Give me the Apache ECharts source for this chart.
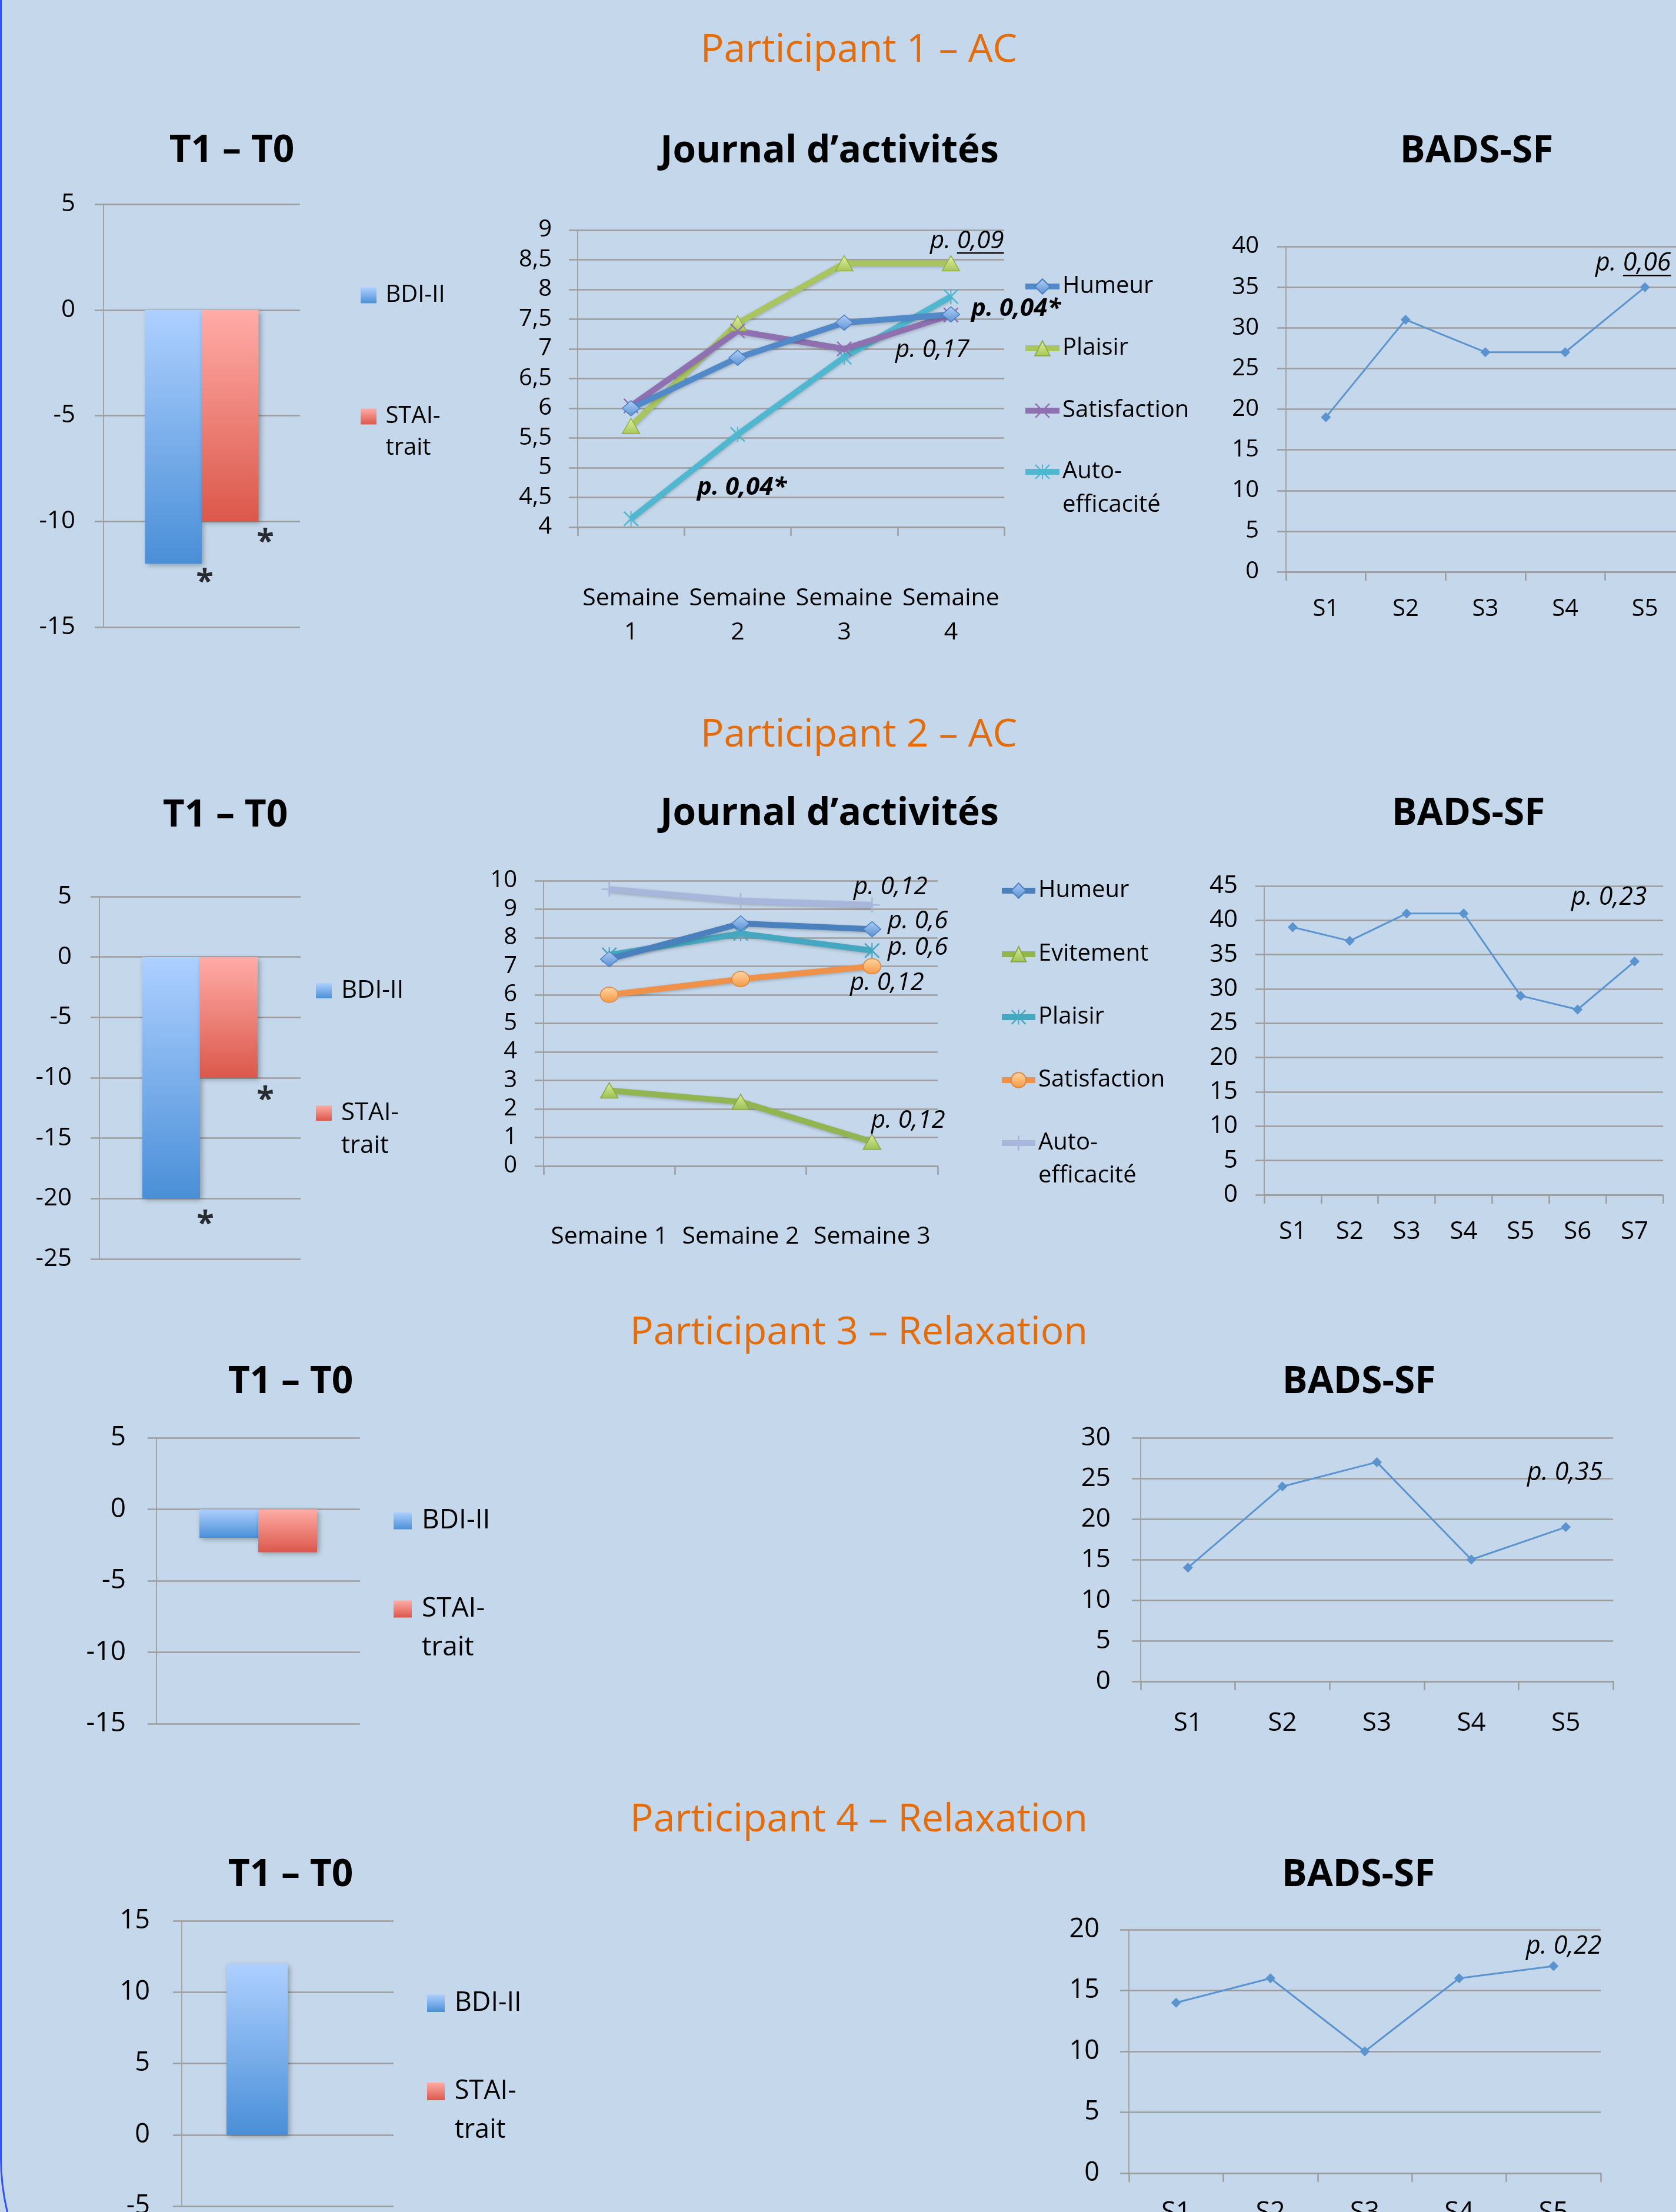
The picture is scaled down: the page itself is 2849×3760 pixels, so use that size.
<!DOCTYPE html>
<html>
<head>
<meta charset="utf-8">
<title>Participants – BDI-II, STAI-trait, journal d’activités, BADS-SF</title>
<script src="https://cdn.jsdelivr.net/npm/echarts@6/dist/echarts.min.js"></script>
<style>
  html, body { margin: 0; padding: 0; background: #c5d8eb; }
  #chart { width: 2849px; height: 3760px; }
</style>
</head>
<body>
<div id="chart"></div>
<script>
// ---------------- data ----------------
const participantTitles = ['Participant 1 – AC', 'Participant 2 – AC', 'Participant 3 – Relaxation', 'Participant 4 – Relaxation'];
const titleT1T0 = 'T1 – T0';
const titleJournal = 'Journal d’activités';
const titleBads = 'BADS-SF';

// T1 − T0 differences, one entry per participant
const scaleNames = ['BDI-II', 'STAI-trait'];
const bdiChange = [-12, -20, -2, 12];
const staiChange = [-10, -10, -3, 0];
const bdiSignificant = [true, true, false, false];
const staiSignificant = [true, true, false, false];
const t1t0Ranges = [[-15, 5], [-25, 5], [-15, 5], [-5, 15]];

// Journal d'activités, participant 1
const weeksP1 = ['Semaine 1', 'Semaine 2', 'Semaine 3', 'Semaine 4'];
const humeurP1 = [6.0, 6.85, 7.44, 7.58];
const plaisirP1 = [5.7, 7.43, 8.44, 8.44];
const satisfactionP1 = [6.04, 7.3, 7.0, 7.57];
const autoEfficaciteP1 = [4.14, 5.56, 6.86, 7.88];
const pJournalP1 = ['p. 0,09', 'p. 0,04*', 'p. 0,17', 'p. 0,04*'];

// Journal d'activités, participant 2
const weeksP2 = ['Semaine 1', 'Semaine 2', 'Semaine 3'];
const humeurP2 = [7.25, 8.5, 8.3];
const evitementP2 = [2.65, 2.25, 0.85];
const plaisirP2 = [7.4, 8.15, 7.55];
const satisfactionP2 = [6.0, 6.55, 7.0];
const autoEfficaciteP2 = [9.7, 9.3, 9.15];
const pJournalP2 = ['p. 0,12', 'p. 0,6', 'p. 0,6', 'p. 0,12', 'p. 0,12'];

// BADS-SF per session
const sessionsP1 = ['S1', 'S2', 'S3', 'S4', 'S5'];
const sessionsP2 = ['S1', 'S2', 'S3', 'S4', 'S5', 'S6', 'S7'];
const sessionsP3 = ['S1', 'S2', 'S3', 'S4', 'S5'];
const sessionsP4 = ['S1', 'S2', 'S3', 'S4', 'S5'];
const badsP1 = [19, 31, 27, 27, 35];
const badsP2 = [39, 37, 41, 41, 29, 27, 34];
const badsP3 = [14, 24, 27, 15, 19];
const badsP4 = [14, 16, 10, 16, 17];
const badsRanges = [[0, 40], [0, 45], [0, 30], [0, 20]];
const pBads = ['p. 0,06', 'p. 0,23', 'p. 0,35', 'p. 0,22'];

// ---------------- layout ----------------
const FONT = '"Open Sans", "DejaVu Sans", sans-serif';
const GRID_GRAY = '#9c9c9c';
const AXIS_GRAY = '#a3a3a3';
const ORANGE = '#e46c0a';

const participantTitleY = [86, 1250, 2266, 3094];
const panelTitlePos = [
  [{t: titleT1T0, x: 394, y: 257}, {t: titleJournal, x: 1410, y: 258}, {t: titleBads, x: 2510, y: 258}],
  [{t: titleT1T0, x: 383, y: 1387}, {t: titleJournal, x: 1410, y: 1384}, {t: titleBads, x: 2496, y: 1384}],
  [{t: titleT1T0, x: 494, y: 2350}, {t: titleBads, x: 2310, y: 2350}],
  [{t: titleT1T0, x: 494, y: 3188}, {t: titleBads, x: 2309, y: 3188}]
];

const T1T0_LAYOUT = [
  {grid: {left: 176, top: 347, width: 334, height: 719}, bar: 96.5, yFs: 42, yMargin: 48,
   leg: {left: 613, bdi: 502, stai: 708, fs: 40, lh: 54, w: 27, h: 27}, star: {bdi: [5, 32], stai: [108, 36]}},
  {grid: {left: 169, top: 1524, width: 342, height: 616}, bar: 98, yFs: 42, yMargin: 47,
   leg: {left: 537, bdi: 1684, stai: 1892, fs: 42, lh: 56, w: 27, h: 26}, star: {bdi: [9, 44], stai: [111, 39]}},
  {grid: {left: 266, top: 2444, width: 346, height: 486}, bar: 100, yFs: 46, yMargin: 52,
   leg: {left: 669, bdi: 2585, stai: 2735, fs: 46, lh: 66, w: 31, h: 29}, star: {bdi: [0, 0], stai: [0, 0]}},
  {grid: {left: 309, top: 3265, width: 360, height: 485}, bar: 104, yFs: 45, yMargin: 54,
   leg: {left: 726, bdi: 3405, stai: 3555, fs: 45, lh: 66, w: 30, h: 30}, star: {bdi: [0, 0], stai: [0, 0]}}
];

const JOURNAL_LAYOUT = [
  {grid: {left: 982, top: 391, width: 725, height: 505}, yFs: 40, yMargin: 44, xFs: 41, xLh: 58, xMargin: 92,
   leg: {left: 1738, rows: [487, 592, 698, 802], fs: 40, lh: 48, lh2: 57, w: 58, h: 32},
   p: [{x: 1581, y: 410, u: true}, {x: 1651, y: 525, b: true}, {x: 1522, y: 595}, {x: 1185, y: 829, b: true}]},
  {grid: {left: 924, top: 1497, width: 670, height: 485}, yFs: 40, yMargin: 45, xFs: 41, xLh: 48, xMargin: 96,
   leg: {left: 1698, rows: [1514, 1622, 1729, 1836, 1943], fs: 40, lh: 48, lh2: 56, w: 57, h: 32},
   p: [{x: 1451, y: 1508}, {x: 1509, y: 1566}, {x: 1509, y: 1611}, {x: 1445, y: 1671}, {x: 1481, y: 1905}]}
];

const BADS_LAYOUT = [
  {grid: {left: 2186, top: 419, width: 678, height: 553}, fs: 40, yMargin: 46, xMargin: 40, p: {x: 2712, y: 448, u: true}},
  {grid: {left: 2149, top: 1506, width: 678, height: 525}, fs: 42, yMargin: 45, xMargin: 39, p: {x: 2671, y: 1526}},
  {grid: {left: 1939, top: 2444, width: 803, height: 414}, fs: 44, yMargin: 51, xMargin: 47, p: {x: 2596, y: 2504}},
  {grid: {left: 1919, top: 3280, width: 802, height: 414}, fs: 45, yMargin: 50, xMargin: 44, p: {x: 2594, y: 3309}}
];

const JOURNAL_LINE_WIDTH = 10;

// ---------------- helpers ----------------
const grids = [], xAxes = [], yAxes = [], series = [], legends = [], graphics = [];

function vGrad(top, bottom) {
  return new echarts.graphic.LinearGradient(0, 0, 0, 1, [{offset: 0, color: top}, {offset: 1, color: bottom}]);
}

function addGrid(box, cats, range, step, ax) {
  const i = grids.length;
  grids.push({left: box.left, top: box.top, width: box.width, height: box.height,
              containLabel: false, outerBoundsMode: 'none'});
  const xLabel = {show: true, interval: 0, margin: ax.xMargin || 0, color: '#000',
                  fontFamily: FONT, fontSize: ax.xFs || 40, lineHeight: ax.xLh || 48};
  if (ax.xFmt) xLabel.formatter = ax.xFmt;
  xAxes.push({
    gridIndex: i, type: 'category', data: cats, boundaryGap: true, show: !ax.hideX,
    axisLine: {show: true, onZero: false, lineStyle: {color: GRID_GRAY, width: 2.5}},
    axisTick: {show: true, length: 15, interval: 0, alignWithLabel: false, lineStyle: {color: GRID_GRAY, width: 2.5}},
    axisLabel: xLabel,
    splitLine: {show: false}
  });
  yAxes.push({
    gridIndex: i, type: 'value', min: range[0], max: range[1], interval: step,
    axisLine: {show: true, onZero: false, lineStyle: {color: AXIS_GRAY, width: 2}},
    axisTick: {show: true, length: 15, lineStyle: {color: GRID_GRAY, width: 2.5}},
    axisLabel: {show: true, margin: ax.yMargin, color: '#000', fontFamily: FONT, fontSize: ax.yFs,
                padding: [8, 0, 0, 0],
                formatter: v => String(v).replace('.', ',')},
    splitLine: {show: true, lineStyle: {color: GRID_GRAY, width: 2.5}}
  });
  return i;
}

// one legend component per entry, so a two-line label keeps its first line beside the icon
function legendItem(name, left, cy, fs, lh, w, h, label, icon) {
  const two = label.indexOf('\n') >= 0;
  const leg = {
    show: true, data: [name], orient: 'vertical', left: left,
    top: cy - (two ? 1.5 : 0.5) * lh, padding: 0, itemGap: 0,
    itemWidth: w, itemHeight: h, selectedMode: false,
    formatter: () => (two ? ' \n' + label : label),
    textStyle: {fontFamily: FONT, fontSize: fs, lineHeight: lh, color: '#000'},
    itemStyle: {shadowBlur: 0, shadowColor: 'rgba(0,0,0,0)'}
  };
  if (icon) leg.icon = icon;
  else leg.lineStyle = {width: JOURNAL_LINE_WIDTH, shadowBlur: 0, shadowColor: 'rgba(0,0,0,0)'};
  return leg;
}

const SYM_X = 'path://M0.7,0L5,4.3L9.3,0L10,0.7L5.7,5L10,9.3L9.3,10L5,5.7L0.7,10L0,9.3L4.3,5L0,0.7Z';
const SYM_STAR = SYM_X + 'M4.6,0L5.4,0L5.4,10L4.6,10Z';
const SYM_PLUS = 'path://M4.5,0L5.5,0L5.5,4.5L10,4.5L10,5.5L5.5,5.5L5.5,10L4.5,10L4.5,5.5L0,5.5L0,4.5L4.5,4.5Z';

function lineSeries(name, gi, data, st) {
  return {
    type: 'line', name: name, xAxisIndex: gi, yAxisIndex: gi, data: data,
    symbol: st.symbol, symbolSize: st.size || [30, 26], showSymbol: true,
    lineStyle: {color: st.line, width: JOURNAL_LINE_WIDTH, shadowBlur: 5, shadowColor: 'rgba(0,0,0,0.22)', shadowOffsetY: 2},
    itemStyle: {color: st.fill || st.line, borderColor: st.border || st.line, borderWidth: st.bw || 0},
    emphasis: {disabled: true}, silent: true, z: st.z || 2
  };
}

const measureCtx = document.createElement('canvas').getContext('2d');
function textWidth(str, fs, bold) {
  measureCtx.font = 'italic ' + (bold ? 'bold ' : '') + fs + 'px ' + FONT;
  return measureCtx.measureText(str).width;
}

// p-value annotation, with the value optionally underlined
function pText(str, pos, fs) {
  graphics.push({
    type: 'text', x: pos.x, y: pos.y, silent: true, z: 100,
    style: {text: str, fill: '#000', fontFamily: FONT, fontSize: fs, fontStyle: 'italic',
            fontWeight: pos.b ? 'bold' : 'normal', align: 'left', verticalAlign: 'middle'}
  });
  if (pos.u) {
    const x1 = pos.x + textWidth('p. ', fs, pos.b);
    const x2 = pos.x + textWidth(str, fs, pos.b);
    const uy = pos.y + 0.357 * fs + 5;
    graphics.push({type: 'line', silent: true, z: 100,
                   shape: {x1: x1, y1: uy, x2: x2, y2: uy}, style: {stroke: '#000', lineWidth: 2.5}});
  }
}

// ---------------- T1 – T0 bar panels ----------------
const blueBar = () => vGrad('#aed0ff', '#4a8fd7');
const redBar = () => vGrad('#ffaca7', '#db584b');
const barShadow = {shadowBlur: 9, shadowColor: 'rgba(0,0,0,0.32)', shadowOffsetX: 3, shadowOffsetY: 3};

T1T0_LAYOUT.forEach((L, i) => {
  const gi = addGrid(L.grid, [titleT1T0], t1t0Ranges[i], 5, {hideX: true, yFs: L.yFs, yMargin: L.yMargin});
  const bdiName = scaleNames[0] + '#' + (i + 1);
  const staiName = scaleNames[1] + '#' + (i + 1);
  series.push({type: 'bar', name: bdiName, xAxisIndex: gi, yAxisIndex: gi, data: [bdiChange[i]],
               barWidth: L.bar, barGap: '0%', silent: true, emphasis: {disabled: true},
               itemStyle: Object.assign({color: blueBar()}, barShadow)});
  series.push({type: 'bar', name: staiName, xAxisIndex: gi, yAxisIndex: gi, data: [staiChange[i]],
               barWidth: L.bar, barGap: '0%', silent: true, emphasis: {disabled: true},
               itemStyle: Object.assign({color: redBar()}, barShadow)});
  const stars = [[bdiSignificant[i], bdiChange[i], L.star.bdi], [staiSignificant[i], staiChange[i], L.star.stai]];
  stars.forEach(s => {
    if (!s[0]) return;
    series.push({type: 'scatter', xAxisIndex: gi, yAxisIndex: gi, data: [[0, s[1]]],
                 symbol: 'circle', symbolSize: 1, itemStyle: {color: 'rgba(0,0,0,0)'},
                 silent: true, z: 5,
                 label: {show: true, position: 'inside', formatter: '*', offset: s[2],
                         fontFamily: FONT, fontSize: 54, fontWeight: 'bold', color: '#000'}});
  });
  const g = L.leg;
  legends.push(legendItem(bdiName, g.left, g.bdi, g.fs, g.lh, g.w, g.h, ' BDI-II', 'rect'));
  legends.push(legendItem(staiName, g.left, g.stai, g.fs, g.lh, g.w, g.h, ' STAI-\n trait', 'rect'));
});

// ---------------- journal d'activités ----------------
(function () {
  const L = JOURNAL_LAYOUT[0];
  const gi = addGrid(L.grid, weeksP1, [4, 9], 0.5,
    {xFs: L.xFs, xLh: L.xLh, xMargin: L.xMargin, xFmt: v => v.replace(' ', '\n'), yFs: L.yFs, yMargin: L.yMargin});
  const defs = [
    ['Humeur', humeurP1, {symbol: 'diamond', line: '#5189c9', fill: vGrad('#b3d1f7', '#5b91d4'), border: '#4a7fc0', bw: 1.5, z: 4}],
    ['Plaisir', plaisirP1, {symbol: 'triangle', line: '#a8c560', fill: vGrad('#e3f2a6', '#a6c656'), border: '#8fae48', bw: 1.5, z: 3}],
    ['Satisfaction', satisfactionP1, {symbol: SYM_X, line: '#8f70b0', size: 26, z: 3}],
    ['Auto-efficacité', autoEfficaciteP1, {symbol: SYM_STAR, line: '#4fb7cf', size: 26, z: 2}]
  ];
  defs.forEach((d, k) => {
    const name = d[0] + '#1';
    series.push(lineSeries(name, gi, d[1], d[2]));
    const label = d[0] === 'Auto-efficacité' ? 'Auto-\nefficacité' : d[0];
    const lh = label.indexOf('\n') >= 0 ? L.leg.lh2 : L.leg.lh;
    legends.push(legendItem(name, L.leg.left, L.leg.rows[k], L.leg.fs, lh, L.leg.w, L.leg.h, label));
  });
  pJournalP1.forEach((t, k) => pText(t, L.p[k], 42));
})();

(function () {
  const L = JOURNAL_LAYOUT[1];
  const gi = addGrid(L.grid, weeksP2, [0, 10], 1,
    {xFs: L.xFs, xLh: L.xLh, xMargin: L.xMargin, yFs: L.yFs, yMargin: L.yMargin});
  const defs = [
    ['Humeur', humeurP2, {symbol: 'diamond', line: '#4b80bf', fill: vGrad('#acccf5', '#5a90d3'), border: '#4a7fc0', bw: 1.5, z: 4}],
    ['Evitement', evitementP2, {symbol: 'triangle', line: '#92b451', fill: vGrad('#dcee9e', '#9cc050'), border: '#86a646', bw: 1.5, z: 3}],
    ['Plaisir', plaisirP2, {symbol: SYM_STAR, line: '#46a7c0', size: 26, z: 3}],
    ['Satisfaction', satisfactionP2, {symbol: 'circle', line: '#f0914a', fill: vGrad('#ffd7a6', '#f59843'), border: '#e0853a', bw: 1.5, z: 3}],
    ['Auto-efficacité', autoEfficaciteP2, {symbol: SYM_PLUS, line: '#a7b6da', size: 26, z: 2}]
  ];
  defs.forEach((d, k) => {
    const name = d[0] + '#2';
    series.push(lineSeries(name, gi, d[1], d[2]));
    const label = d[0] === 'Auto-efficacité' ? 'Auto-\nefficacité' : d[0];
    const lh = label.indexOf('\n') >= 0 ? L.leg.lh2 : L.leg.lh;
    legends.push(legendItem(name, L.leg.left, L.leg.rows[k], L.leg.fs, lh, L.leg.w, L.leg.h, label));
  });
  pJournalP2.forEach((t, k) => pText(t, L.p[k], 42));
})();

// ---------------- BADS-SF ----------------
const badsSeries = [badsP1, badsP2, badsP3, badsP4];
const badsSessions = [sessionsP1, sessionsP2, sessionsP3, sessionsP4];
BADS_LAYOUT.forEach((L, i) => {
  const gi = addGrid(L.grid, badsSessions[i], badsRanges[i], 5,
    {xFs: L.fs, xLh: 48, xMargin: L.xMargin, yFs: L.fs, yMargin: L.yMargin});
  series.push({type: 'line', name: titleBads + '#' + (i + 1), xAxisIndex: gi, yAxisIndex: gi, data: badsSeries[i],
               symbol: 'diamond', symbolSize: 17, showSymbol: true, silent: true, emphasis: {disabled: true},
               lineStyle: {color: '#5b93cf', width: 3},
               itemStyle: {color: '#5b93cf', borderWidth: 0}});
  pText(pBads[i], L.p, 43);
});

// ---------------- titles and frame ----------------
graphics.push({type: 'rect', silent: true, z: 1,
               shape: {x: 1.5, y: -600, width: 3600, height: 4667, r: 400},
               style: {fill: 'rgba(0,0,0,0)', stroke: '#2f52f2', lineWidth: 3}});
participantTitles.forEach((t, i) => {
  graphics.push({type: 'text', x: 1460, y: participantTitleY[i], silent: true,
                 style: {text: t, fill: ORANGE, fontFamily: FONT, fontSize: 66, fontWeight: 'normal',
                         align: 'center', verticalAlign: 'middle'}});
});
panelTitlePos.forEach(row => row.forEach(p => {
  graphics.push({type: 'text', x: p.x, y: p.y, silent: true,
                 style: {text: p.t, fill: '#000', fontFamily: FONT, fontSize: 64, fontWeight: 'bold',
                         align: 'center', verticalAlign: 'middle'}});
}));

// ---------------- render ----------------
const chart = echarts.init(document.getElementById('chart'), null, {renderer: 'canvas', width: 2849, height: 3760});
chart.setOption({
  backgroundColor: '#c5d8eb',
  animation: false,
  textStyle: {fontFamily: FONT},
  tooltip: {show: false},
  grid: grids,
  xAxis: xAxes,
  yAxis: yAxes,
  legend: legends,
  series: series,
  graphic: graphics
});
</script>
</body>
</html>
